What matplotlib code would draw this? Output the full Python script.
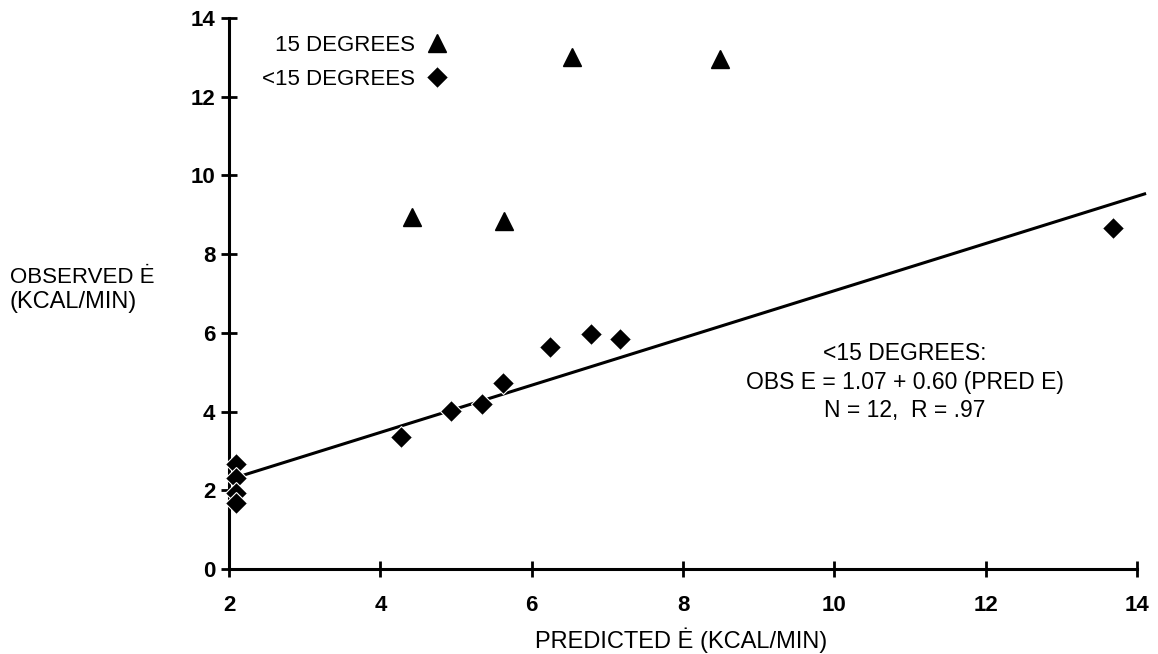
import matplotlib
matplotlib.use("Agg")
import matplotlib.pyplot as plt
from matplotlib import font_manager

plt.rcParams['font.family'] = ['Liberation Sans', 'DejaVu Sans']

# 15 degrees (triangles)
pred_15 = [4.42, 5.63, 6.53, 8.49]
obs_15 = [8.94, 8.84, 13.0, 12.96]

# <15 degrees (diamonds)
pred_lt15 = [2.09, 2.09, 2.09, 2.09, 4.27, 4.93, 5.34, 5.62, 6.24, 6.78, 7.17, 13.68]
obs_lt15 = [2.67, 2.31, 1.93, 1.68, 3.35, 4.01, 4.19, 4.73, 5.64, 5.97, 5.84, 8.66]

# regression for <15 degrees
intercept = 1.07
slope = 0.60
fit_x = [2.0, 14.1]
fit_y = [intercept + slope * v for v in fit_x]

x_ticks = [2, 4, 6, 8, 10, 12, 14]
y_ticks = [0, 2, 4, 6, 8, 10, 12, 14]

# narrow face for the squeezed y label, if there is one
narrow = 'Liberation Sans Narrow'
names = {f.name for f in font_manager.fontManager.ttflist}
if narrow not in names:
    narrow = 'Liberation Sans'

fig = plt.figure(figsize=(11.58, 6.54), dpi=100)
ax = fig.add_axes([0.1978, 0.130, 0.7841, 0.8425])

ax.plot(fit_x, fit_y, color='black', lw=2.2, clip_on=False, zorder=2)
ax.plot(pred_15, obs_15, linestyle='none', marker='^', ms=12.5, color='black',
        label='15 DEGREES', clip_on=False, zorder=3)
ax.plot(pred_lt15, obs_lt15, linestyle='none', marker='D', ms=11.5, color='black',
        mec='white', mew=0.8, label='<15 DEGREES', clip_on=False, zorder=3)

ax.set_xlim(2, 14)
ax.set_ylim(0, 14)
ax.set_xticks(x_ticks)
ax.set_yticks(y_ticks)
ax.set_xticklabels([str(v) for v in x_ticks])
ax.set_yticklabels([str(v) for v in y_ticks])

for s in ['top', 'right']:
    ax.spines[s].set_visible(False)
for s in ['left', 'bottom']:
    ax.spines[s].set_linewidth(2.2)
ax.tick_params(axis='both', direction='inout', length=12, width=2, labelsize=16)
ax.tick_params(axis='y', pad=4)
ax.tick_params(axis='x', pad=13)
for lbl in ax.get_xticklabels() + ax.get_yticklabels():
    lbl.set_fontweight('bold')

leg = ax.legend(loc='upper right', bbox_to_anchor=(0.241, 0.97), frameon=False,
                markerfirst=False, fontsize=16, handletextpad=0.5,
                labelspacing=0.6, handlelength=1.0, borderpad=0,
                borderaxespad=0)

ax.text(10.93, 4.75, '<15 DEGREES:\nOBS E = 1.07 + 0.60 (PRED E)\nN = 12,  R = .97',
        ha='center', va='center', fontsize=16.5, linespacing=1.3)

fig.text(0.0086, 0.575, 'OBSERVED Ė', ha='left', va='center',
         fontsize=16, family=[narrow, 'DejaVu Sans'])
fig.text(0.0086, 0.538, '(KCAL/MIN)', ha='left', va='center', fontsize=17)
fig.text(0.588, 0.021, 'PREDICTED Ė (KCAL/MIN)', ha='center', va='center',
         fontsize=17)

fig.savefig('out.png', dpi=100)
